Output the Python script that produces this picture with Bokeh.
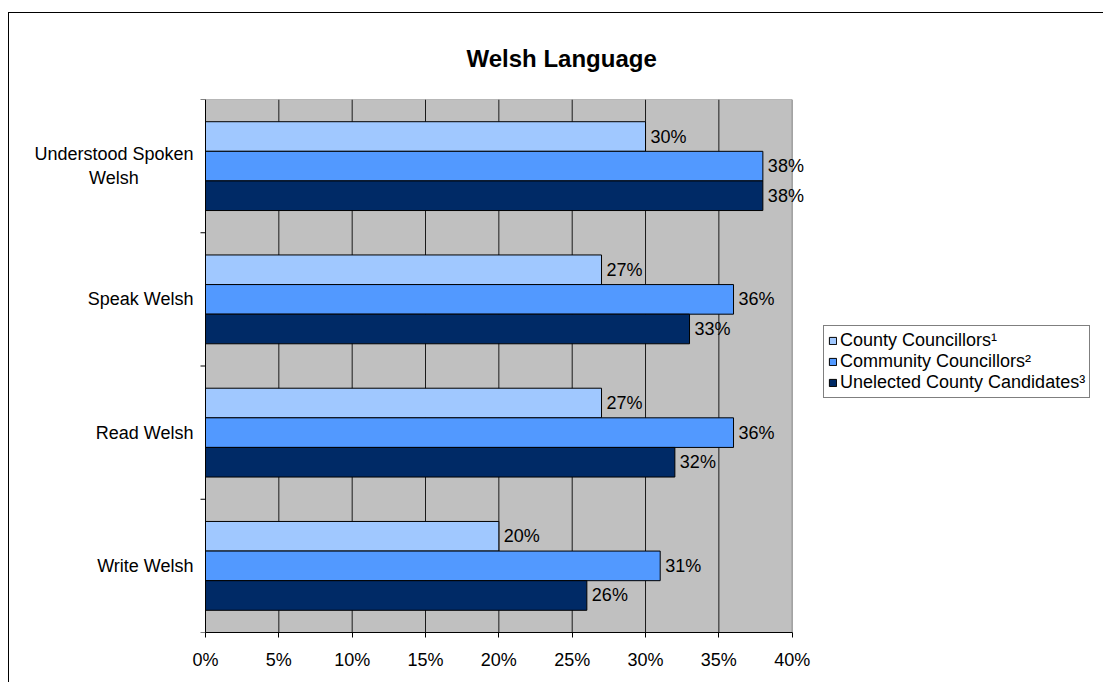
import numpy as np
from bokeh.plotting import figure
from bokeh.models import (Range1d, FixedTicker, Legend, LegendItem, PrintfTickFormatter)
from bokeh.embed import file_html
from bokeh.resources import INLINE
from bokeh.core.properties import value

# ---- data ----
categories = ["Understood Spoken\nWelsh", "Speak Welsh", "Read Welsh", "Write Welsh"]
series_names = ["County Councillors\u00b9", "Community Councillors\u00b2",
                "Unelected County Candidates\u00b3"]
county_councillors = [30, 27, 27, 20]
community_councillors = [38, 36, 36, 31]
unelected_candidates = [38, 33, 32, 26]
x_ticks = [0, 5, 10, 15, 20, 25, 30, 35, 40]
colors = ["#A0C8FF", "#5299FF", "#002A66"]

FONT = "Liberation Sans"

# ---- layout (pixels) ----
W, H = 1095, 670
BORDER_TOP, BORDER_BOTTOM, BORDER_RIGHT = 86, 51, 2
AXIS_X_PX = 196          # where 0% sits, from the canvas' left edge
SCALE_PX = 586.7         # width of the 0..40% plot area
frame_w = W - BORDER_RIGHT
x_max = x_ticks[-1]
px_per_unit = SCALE_PX / x_max
x_start = -AXIS_X_PX / px_per_unit
x_end = (frame_w - AXIS_X_PX) / px_per_unit

n = len(categories)
centers = [n - 0.5 - i for i in range(n)]      # top to bottom
bar_h = (2.0 / 3.0) / 3.0
offsets = [bar_h, 0.0, -bar_h]

p = figure(width=W, height=H, output_backend="svg", toolbar_location=None,
           x_range=Range1d(x_start, x_end), y_range=Range1d(0, n),
           y_axis_location=None,
           min_border_left=0, min_border_right=BORDER_RIGHT,
           min_border_top=BORDER_TOP, min_border_bottom=BORDER_BOTTOM)
p.styles = {"border-left": "1px solid black", "border-top": "1px solid black",
            "margin-left": "8px", "margin-top": "12px"}

p.background_fill_color = "white"
p.border_fill_color = "white"
p.outline_line_color = None
p.grid.visible = False

# title
p.title.text = "Welsh Language"
p.title.text_font = FONT
p.title.text_font_size = "24px"
p.title.text_font_style = "bold"
p.title.text_color = "black"
p.title.align = "left"
p.title.offset = 457
p.title.standoff = 55

# x axis
p.xaxis.ticker = FixedTicker(ticks=x_ticks)
p.xaxis.bounds = (0, x_max)
p.xaxis.formatter = PrintfTickFormatter(format="%d%%")
p.xaxis.major_tick_out = 5
p.xaxis.major_tick_in = 0
p.xaxis.minor_tick_out = 0
p.xaxis.minor_tick_in = 0
p.xaxis.major_label_standoff = 12
p.xaxis.major_label_text_font = FONT
p.xaxis.major_label_text_font_size = "18px"
p.xaxis.major_label_text_color = "black"
p.xaxis.axis_line_color = "black"
p.xaxis.major_tick_line_color = "black"

# plot area background with grey outline
p.quad(left=[0], right=[x_max], bottom=[0], top=[n],
       fill_color="#C0C0C0", line_color="#808080", line_width=1)
# vertical grid lines
inner = x_ticks[1:-1]
p.segment(x0=inner, y0=[0] * len(inner), x1=inner, y1=[n] * len(inner),
          line_color="#1a1a1a", line_width=1)

# bars and value labels
series = [county_councillors, community_councillors, unelected_candidates]
items = []
for vals, name, col, off in zip(series, series_names, colors, offsets):
    ys = [c + off for c in centers]
    r = p.hbar(y=ys, left=0, right=vals, height=bar_h, fill_color=col,
               line_color="black", line_width=1)
    p.text(x=vals, y=ys, text=[f"{v}%" for v in vals], x_offset=5,
           text_align="left", text_baseline="middle",
           text_font=value(FONT), text_font_size="18px", text_color="black")
    items.append(LegendItem(label=name, renderers=[r]))

# category axis: line, boundary ticks, labels
p.segment(x0=[0], y0=[0], x1=[0], y1=[n], line_color="black", line_width=1)
bounds_y = list(range(n + 1))
p.ray(x=[0] * len(bounds_y), y=bounds_y, length=5, length_units="screen",
      angle=np.pi, line_color="black", line_width=1)
p.text(x=[0] * n, y=centers, text=categories, x_offset=-12,
       anchor="center_right", text_align="center", text_baseline="middle",
       text_font=value(FONT), text_font_size="18px", text_color="black",
       text_line_height=1.2)

legend = Legend(items=items, location=(814, 234), orientation="vertical",
                border_line_color="black", border_line_width=1,
                background_fill_color="white", background_fill_alpha=1,
                padding=4, spacing=0, margin=0,
                label_height=21, glyph_height=9, glyph_width=9,
                label_standoff=3, label_text_font=FONT,
                label_text_font_size="18px", label_text_color="black")
p.add_layout(legend)

open("out.html", "w").write(file_html(p, INLINE))
